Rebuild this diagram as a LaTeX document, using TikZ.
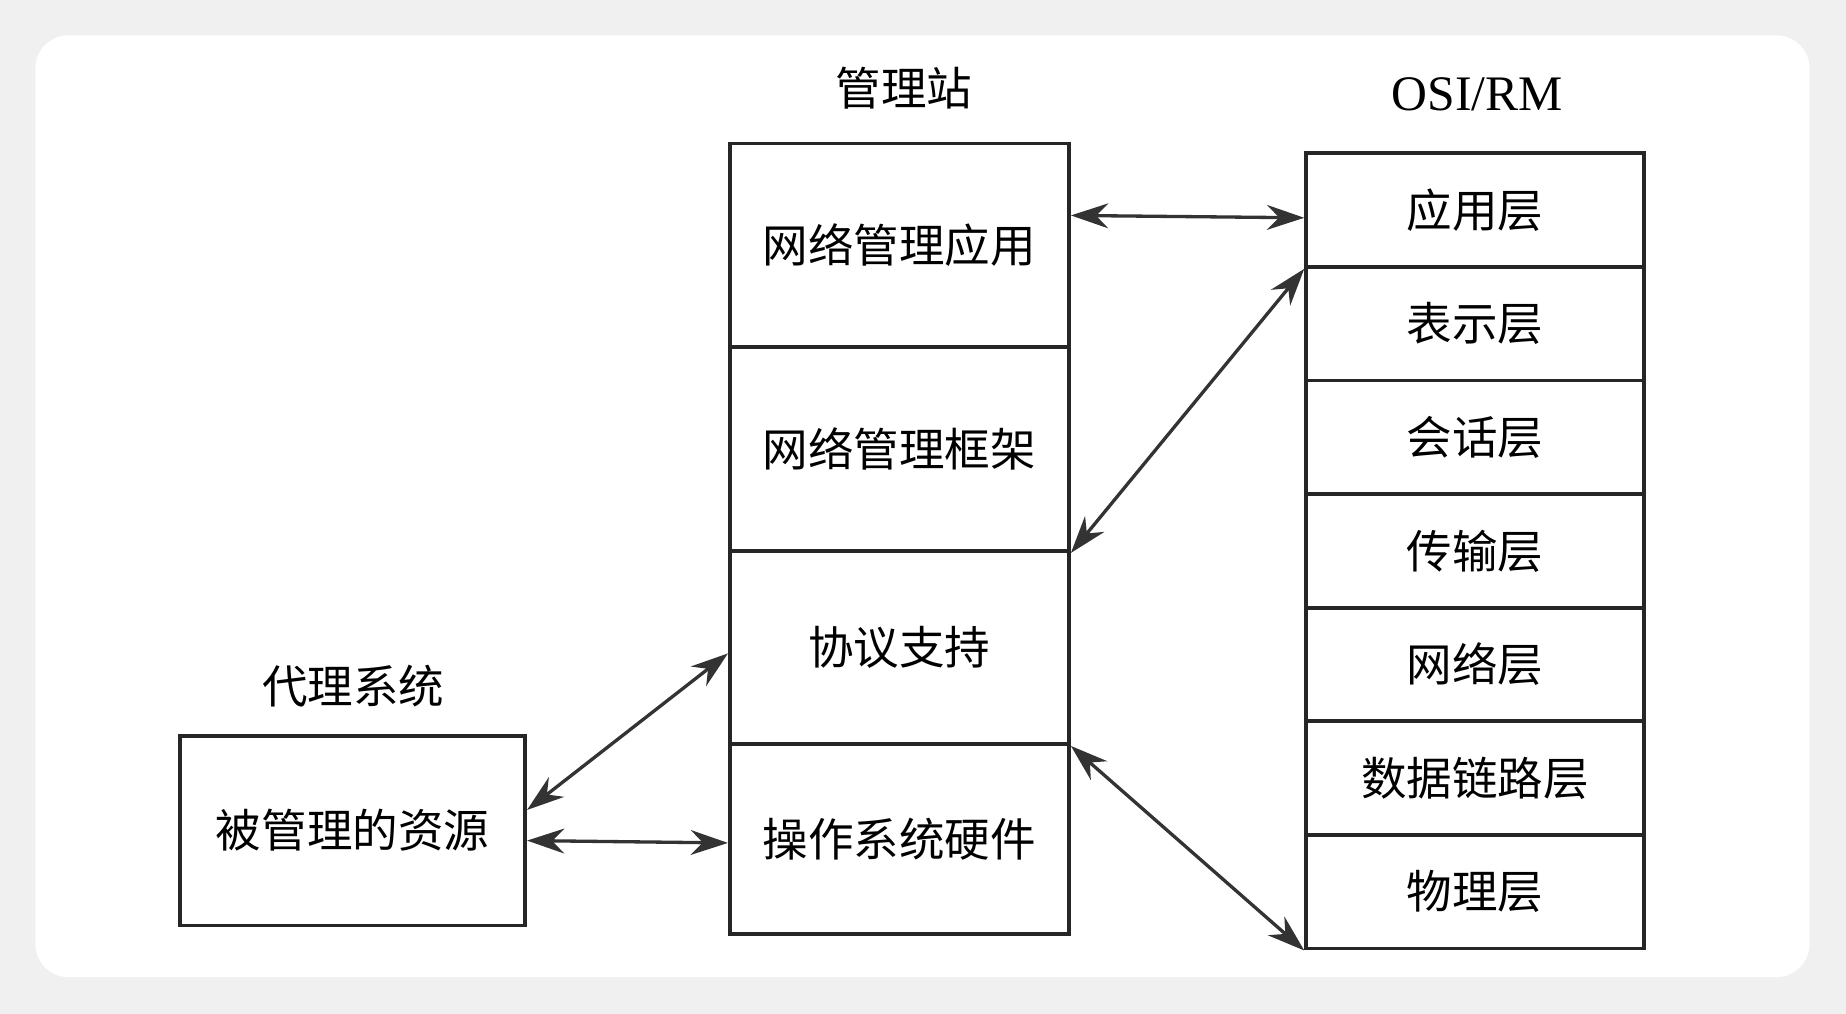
\documentclass[tikz,border=0pt]{standalone}
\usepackage{fontspec}
\newfontfamily\cjk{Noto Sans CJK SC}
\setmainfont{Liberation Serif}
\usetikzlibrary{arrows.meta}
\begin{document}
\begin{tikzpicture}[x=0.01cm,y=-0.01cm,
  box/.style={draw=black!85,line width=0.9pt,inner sep=0pt,font=\cjk\fontsize{11pt}{13pt}\selectfont},
  ttl/.style={font=\cjk\fontsize{11pt}{13pt}\selectfont},
  link/.style={draw=black!80,line width=0.8pt,{Stealth[length=9pt,width=6pt]}-{Stealth[length=9pt,width=6pt]}}]
\fill[black!6] (0,0) rectangle (1568,861);
\useasboundingbox (0,0) rectangle (1568,861);
\fill[white,rounded corners=8pt] (30,30) rectangle (1537,830);
% middle
\node[ttl] (tm) at (768,75) {管理站};
\node[box,minimum width=2.88cm,minimum height=1.73cm] (m1) at (764,208.5) {网络管理应用};
\node[box,minimum width=2.88cm,minimum height=1.73cm] (m2) at (764,381.5) {网络管理框架};
\node[box,minimum width=2.88cm,minimum height=1.64cm] (m3) at (764,550) {协议支持};
\node[box,minimum width=2.88cm,minimum height=1.61cm] (m4) at (764,712.5) {操作系统硬件};
% right
\node[ttl,font=\fontsize{12pt}{14pt}\selectfont] (tr) at (1255,80) {OSI/RM};
\foreach \n/\t/\y in {r1/应用层/178.5,r2/表示层/275,r3/会话层/371.5,r4/传输层/468,r5/网络层/564.5,r6/数据链路层/661,r7/物理层/757.5}{
  \node[box,minimum width=2.87cm,minimum height=0.965cm] (\n) at (1253,\y) {\t};
}
% left
\node[ttl] (tl) at (300,583) {代理系统};
\node[box,minimum width=2.93cm,minimum height=1.61cm] (l1) at (299.5,705.5) {被管理的资源};
% connectors
\draw[link] (m1.east|-0,183) -- (r1.west|-0,185);
\draw[link] (m2.south east) -- (r1.south west);
\draw[link] (m3.south east) -- (r7.south west);
\draw[link] (l1.east|-0,688) -- (m3.west|-0,555);
\draw[link] (l1.east|-0,714) -- (m4.west|-0,716);
\end{tikzpicture}
\end{document}
